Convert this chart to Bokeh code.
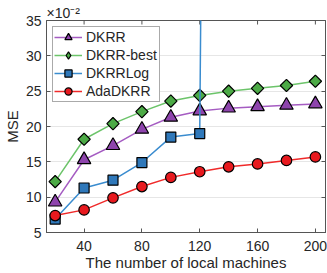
from bokeh.plotting import figure
from bokeh.models import Range1d, LinearAxis, FixedTicker, Legend, ColumnDataSource
from bokeh.embed import file_html
from bokeh.resources import INLINE
import math

# ---- data (values in units of 1e-2) ----
machines = [20, 40, 60, 80, 100, 120, 140, 160, 180, 200]
dkrr = [9.3, 15.3, 17.3, 19.6, 21.3, 22.2, 22.6, 22.8, 23.0, 23.2]
dkrr_best = [12.2, 18.2, 20.4, 22.1, 23.6, 24.4, 25.0, 25.4, 25.8, 26.4]
log_machines = [20, 40, 60, 80, 100, 120, 140]
dkrr_log = [6.9, 11.3, 12.4, 14.9, 18.5, 19.0, 500.0]
ada_dkrr = [7.4, 8.2, 9.9, 11.5, 12.8, 13.6, 14.3, 14.7, 15.2, 15.7]
x_ticks = [40, 80, 120, 160, 200]
y_ticks = [5, 10, 15, 20, 25, 30, 35]
exponent_text = "\u00d710\u207b\u00b2"

FONT = "Liberation Sans"
TXT = "#262626"
AX = "#555555"

p = figure(width=327, height=273, output_backend="svg", toolbar_location=None,
           x_range=Range1d(14, 207), y_range=Range1d(y_ticks[0], y_ticks[-1]),
           min_border_left=40, min_border_right=2, min_border_top=20, min_border_bottom=41)
p.background_fill_color = "white"
p.border_fill_color = "white"
p.outline_line_color = AX
p.outline_line_width = 1

# exponent shown as the title, left-aligned over the y axis
p.title.text = exponent_text
p.title.align = "left"
p.title.offset = 0
p.title.standoff = 0
p.title.text_font = FONT
p.title.text_font_size = "14px"
p.title.text_font_style = "normal"
p.title.text_color = TXT

p.xgrid.visible = False
p.ygrid.grid_line_color = "#e6e6e6"
p.ygrid.grid_line_width = 1
p.ygrid.ticker = FixedTicker(ticks=y_ticks)

for ax, ticks in ((p.xaxis[0], x_ticks), (p.yaxis[0], y_ticks)):
    ax.ticker = FixedTicker(ticks=ticks)
    ax.major_tick_in = 4
    ax.major_tick_out = 0
    ax.minor_tick_in = 0
    ax.minor_tick_out = 0
    ax.axis_line_color = AX
    ax.major_tick_line_color = AX
    ax.major_label_text_font = FONT
    ax.major_label_text_font_size = "14px"
    ax.major_label_text_color = TXT
    ax.axis_label_text_font = FONT
    ax.axis_label_text_font_size = "15px"
    ax.axis_label_text_font_style = "normal"
    ax.axis_label_text_color = TXT

p.xaxis[0].axis_label = "The number of local machines"
p.xaxis[0].major_label_standoff = 8
p.xaxis[0].axis_label_standoff = 0
p.yaxis[0].axis_label = "MSE"
p.yaxis[0].major_label_standoff = 5
p.yaxis[0].axis_label_standoff = 2

# box ticks on the right (no labels)
right = LinearAxis(ticker=FixedTicker(ticks=y_ticks),
                   major_label_overrides={t: "" for t in y_ticks},
                   major_tick_in=4, major_tick_out=0, minor_tick_in=0, minor_tick_out=0,
                   axis_line_color=AX, major_tick_line_color=AX, major_label_standoff=0)
p.add_layout(right, "right")

# box ticks on the top edge: vertical dashes at the x ticks, half clipped by the frame
top_src = ColumnDataSource(dict(x=x_ticks, y=[y_ticks[-1]] * len(x_ticks),
                                a=[math.pi / 2] * len(x_ticks)))
p.scatter("x", "y", source=top_src, marker="dash", angle="a", size=8,
          line_color=AX, line_width=1)

# ---- series ----
PURPLE_L, PURPLE_F = "#a55cc2", "#8e44ad"
GREEN_L, GREEN_F = "#6cc46a", "#4caa46"
BLUE_L, BLUE_F = "#3a8ccf", "#2f78ba"
RED_L, RED_F = "#f02a2a", "#e8191e"

best_src = ColumnDataSource(dict(x=machines, y=dkrr_best, a=[math.pi / 4] * len(machines)))

l1 = p.line(machines, dkrr, line_color=PURPLE_L, line_width=1.5)
m1 = p.scatter(machines, dkrr, marker="triangle", size=13.5, fill_color=PURPLE_F,
               line_color="black", line_width=1.2)
l2 = p.line(machines, dkrr_best, line_color=GREEN_L, line_width=1.5)
# narrow diamonds hidden under the rotated squares; they give the legend its symbol
m2_key = p.scatter(machines, dkrr_best, marker="diamond", size=11,
                   fill_color=GREEN_F, line_color="black", line_width=1.2)
m2 = p.scatter("x", "y", source=best_src, marker="square", angle="a", size=8.7,
               fill_color=GREEN_F, line_color="black", line_width=1.2)
l3 = p.line(log_machines, dkrr_log, line_color=BLUE_L, line_width=1.5)
m3 = p.scatter(log_machines, dkrr_log, marker="square", size=10, fill_color=BLUE_F,
               line_color="black", line_width=1.2)
l4 = p.line(machines, ada_dkrr, line_color=RED_L, line_width=1.5)
m4 = p.scatter(machines, ada_dkrr, marker="circle", size=10.5, fill_color=RED_F,
               line_color="black", line_width=1.2)

legend = Legend(items=[("DKRR", [l1, m1]), ("DKRR-best", [l2, m2_key]),
                       ("DKRRLog", [l3, m3]), ("AdaDKRR", [l4, m4])],
                location="top_left", margin=6, padding=1, spacing=0,
                label_height=18, glyph_height=18, glyph_width=28, label_standoff=4,
                label_width=72,
                label_text_font=FONT, label_text_font_size="14px", label_text_color=TXT,
                border_line_color=AX, border_line_width=1,
                background_fill_color="white", background_fill_alpha=1)
p.add_layout(legend, "center")

open("out.html", "w").write(file_html(p, INLINE))
